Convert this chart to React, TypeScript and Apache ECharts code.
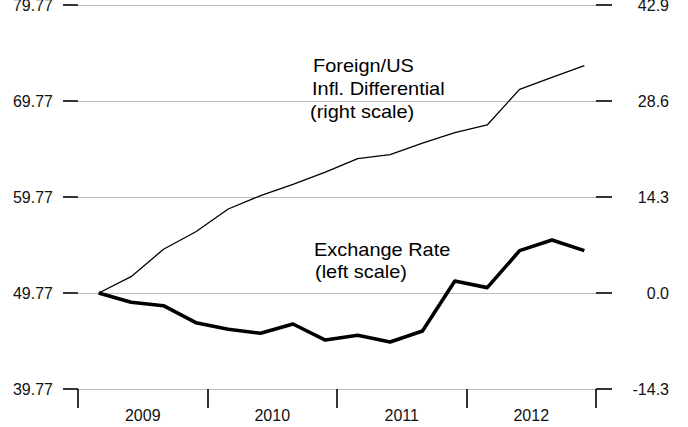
import React, { useEffect, useRef } from "react";
import * as echarts from "echarts";

// ---- data ----
const yearLabels = ["2009", "2010", "2011", "2012"];
const quarters = [
  "2009Q1", "2009Q2", "2009Q3", "2009Q4",
  "2010Q1", "2010Q2", "2010Q3", "2010Q4",
  "2011Q1", "2011Q2", "2011Q3", "2011Q4",
  "2012Q1", "2012Q2", "2012Q3", "2012Q4",
];
const exchangeRate = [
  49.77, 48.8, 48.45, 46.68, 45.99, 45.57, 46.54, 44.87,
  45.36, 44.67, 45.81, 51.02, 50.33, 54.18, 55.29, 54.18,
];
const inflDifferential = [
  0, 2.43, 6.51, 9.13, 12.51, 14.5, 16.19, 18.02,
  20.01, 20.6, 22.34, 23.88, 25.03, 30.34, 32.13, 33.86,
];
const leftTicks = [39.77, 49.77, 59.77, 69.77, 79.77];
const rightTicks = [-14.3, 0, 14.3, 28.6, 42.9];

const FONT = '"Liberation Sans", Arial, Helvetica, sans-serif';
const QUARTER_OFFSET = 0.16; // plotting position within quarter

function quarterToX(q: string): number {
  const y = parseInt(q.slice(0, 4), 10);
  const n = parseInt(q.slice(5), 10);
  return y + (n - 1) / 4 + QUARTER_OFFSET;
}

const step = (arr: number[]) => Math.round((arr[1] - arr[0]) * 1000) / 1000;

export default function App() {
  const ref = useRef<HTMLDivElement>(null);

  useEffect(() => {
    if (!ref.current) return;
    const chart = echarts.init(ref.current, null, { renderer: "svg" });
    const firstYear = parseInt(yearLabels[0], 10);
    const lastYear = parseInt(yearLabels[yearLabels.length - 1], 10) + 1;

    const textStyle = (x: number, y: number, text: string) => ({
      type: "text",
      x,
      y,
      scaleX: 1.05,
      silent: true,
      style: {
        text,
        fontSize: 19,
        fontFamily: FONT,
        fill: "#000",
        verticalAlign: "middle",
        align: "left",
      },
    });

    chart.setOption({
      animation: false,
      backgroundColor: "#fff",
      grid: {
        left: 78,
        right: 92,
        top: 5,
        bottom: 38,
        containLabel: false,
        outerBoundsMode: "none",
      },
      xAxis: [
        {
          type: "value",
          position: "bottom",
          min: firstYear,
          max: lastYear,
          interval: 1,
          axisLine: { show: false, onZero: false },
          axisTick: {
            show: true,
            inside: false,
            length: 19,
            lineStyle: { color: "#000", width: 1.6 },
          },
          axisLabel: { show: false },
          splitLine: { show: false },
        },
        {
          type: "category",
          position: "bottom",
          data: yearLabels,
          boundaryGap: true,
          axisLine: { show: false, onZero: false },
          axisTick: { show: false },
          axisLabel: {
            show: true,
            margin: 18,
            fontSize: 16,
            fontFamily: FONT,
            color: "#111",
          },
          splitLine: { show: false },
        },
      ],
      yAxis: [
        {
          type: "value",
          position: "left",
          min: leftTicks[0],
          max: leftTicks[leftTicks.length - 1],
          interval: step(leftTicks),
          axisLine: { show: false },
          axisTick: {
            show: true,
            inside: false,
            length: 15,
            lineStyle: { color: "#000", width: 1.6 },
          },
          axisLabel: {
            margin: 25,
            fontSize: 16,
            fontFamily: FONT,
            color: "#111",
            formatter: (v: number) => v.toFixed(2),
          },
          splitLine: { show: true, lineStyle: { color: "#bdbdbd", width: 1 } },
        },
        {
          type: "value",
          position: "right",
          min: rightTicks[0],
          max: rightTicks[rightTicks.length - 1],
          interval: step(rightTicks),
          axisLine: { show: false },
          axisTick: {
            show: true,
            inside: false,
            length: 16,
            lineStyle: { color: "#000", width: 1.6 },
          },
          axisLabel: {
            margin: 73,
            align: "right",
            fontSize: 16,
            fontFamily: FONT,
            color: "#111",
            formatter: (v: number) => (Math.abs(v) < 1e-9 ? 0 : v).toFixed(1),
          },
          splitLine: { show: false },
        },
      ],
      series: [
        {
          name: "Foreign/US Infl. Differential",
          type: "line",
          xAxisIndex: 0,
          yAxisIndex: 1,
          data: quarters.map((q, i) => [quarterToX(q), inflDifferential[i]]),
          showSymbol: false,
          symbol: "none",
          lineStyle: { color: "#000", width: 1.3 },
          z: 3,
        },
        {
          name: "Exchange Rate",
          type: "line",
          xAxisIndex: 0,
          yAxisIndex: 0,
          data: quarters.map((q, i) => [quarterToX(q), exchangeRate[i]]),
          showSymbol: false,
          symbol: "none",
          lineStyle: { color: "#000", width: 3.6, join: "round" },
          z: 4,
        },
      ],
      graphic: [
        textStyle(313, 65.6, "Foreign/US"),
        textStyle(312, 88.4, "Infl. Differential"),
        textStyle(310, 111, "(right scale)"),
        textStyle(314, 249.3, "Exchange Rate"),
        textStyle(315, 271.6, "(left scale)"),
      ],
    });

    return () => chart.dispose();
  }, []);

  return (
    <div
      ref={ref}
      style={{ position: "absolute", left: 0, top: 0, width: 688, height: 427 }}
    />
  );
}
